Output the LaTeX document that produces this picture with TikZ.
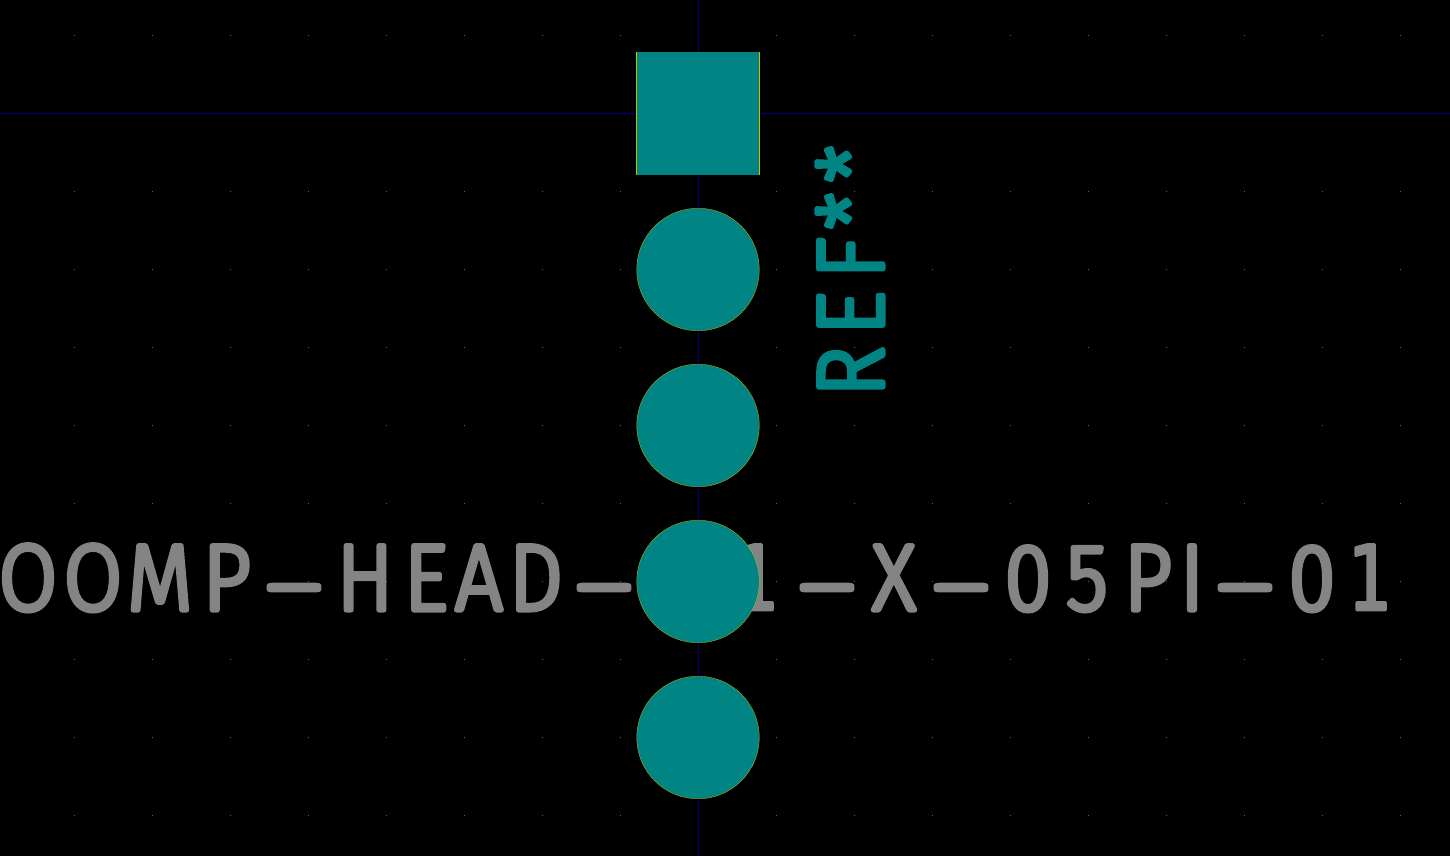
\documentclass[tikz,border=0pt]{standalone}
\usepackage{fontspec}
\usepackage{graphicx}
\newfontfamily\kgrey[FakeBold=5.3,FakeStretch=0.9,Numbers=Lining]{Fira Sans Light}
\newfontfamily\kone[FakeBold=3,FakeStretch=0.76]{DejaVu Sans}
\definecolor{kteal}{HTML}{008484}
\definecolor{kgreytxt}{HTML}{848484}
\definecolor{kyellow}{HTML}{C2C200}
\definecolor{kblue}{HTML}{000084}
\definecolor{kdot}{HTML}{848484}
\newcommand{\rnd}{\special{pdf:code 1 J 1 j}}
\newcommand{\gl}[2]{\makebox[#1pt][c]{#2}}
\newcommand{\dsh}[1]{\makebox[#1pt][c]{\raisebox{-7pt}{\scalebox{2.0}[1]{-}}}}
\newcommand{\ones}[1]{\makebox[#1pt][c]{{\fontsize{90pt}{90pt}\kone\rnd 1}}}
\newcommand{\stars}[1]{\makebox[#1pt][c]{\raisebox{-3pt}{*}}}
\tikzset{
  padc/.style={circle,draw=kyellow,line width=0.3pt,fill=kteal,minimum size=122.5pt,inner sep=0pt,outer sep=0pt},
  stroketxt/.style={inner sep=0pt,outer sep=0pt,font=\fontsize{94pt}{94pt}\selectfont\kgrey},
  griddot/.style={fill=kdot,opacity=0.75}
}
\begin{document}
\begin{tikzpicture}[x=1pt,y=-1pt]
\useasboundingbox (0,0) rectangle (1450,856);
\fill[black] (0,0) rectangle (1450,856);
\foreach \i in {0,...,17}{\foreach \j in {0,...,10}{
  \fill[griddot] ({74+78*\i},{35+78*\j}) rectangle +(1,1);
}}
\coordinate (vt) at (698.5,0); \coordinate (vb) at (698.5,856);
\coordinate (hl) at (0,113.5); \coordinate (hr) at (1450,113.5);
\draw[kblue,line width=1pt] (vt) -- (vb);
\draw[kblue,line width=1pt] (hl) -- (hr);
\node[stroketxt,text=kgreytxt,anchor=base west] (val1) at (-4,610) {\rnd\gl{64}{O}\gl{66}{O}\gl{68}{M}\gl{66}{P}\dsh{68}\gl{74}{H}\gl{48}{E}\gl{58}{A}\gl{56}{D}\dsh{80}};
\node[stroketxt,text=kgreytxt,anchor=base west] (val2) at (735,610) {\rnd\ones{44}\dsh{96}\gl{38}{X}\dsh{96}\gl{38}{0}\gl{80}{5}\gl{42}{P}\gl{46}{I}\dsh{60}\gl{74}{0}\ones{42}};
\node[stroketxt,text=kteal,anchor=base west,rotate=90] (ref) at (883,403) {\rnd\gl{63}{R}\gl{54}{E}\gl{56}{F}\stars{38}\stars{56}};
\node[fill=kyellow,minimum width=124pt,minimum height=123pt,inner sep=0pt,outer sep=0pt] (p1) at (698,113.5) {};
\fill[kteal] ([xshift=1pt]p1.north west) rectangle ([xshift=-1pt]p1.south east);
\node[padc] (p2) at (698,269.5) {};
\node[padc] (p3) at (698,425.5) {};
\node[padc] (p4) at (698,581.5) {};
\node[padc] (p5) at (698,737.5) {};
\end{tikzpicture}
\end{document}
